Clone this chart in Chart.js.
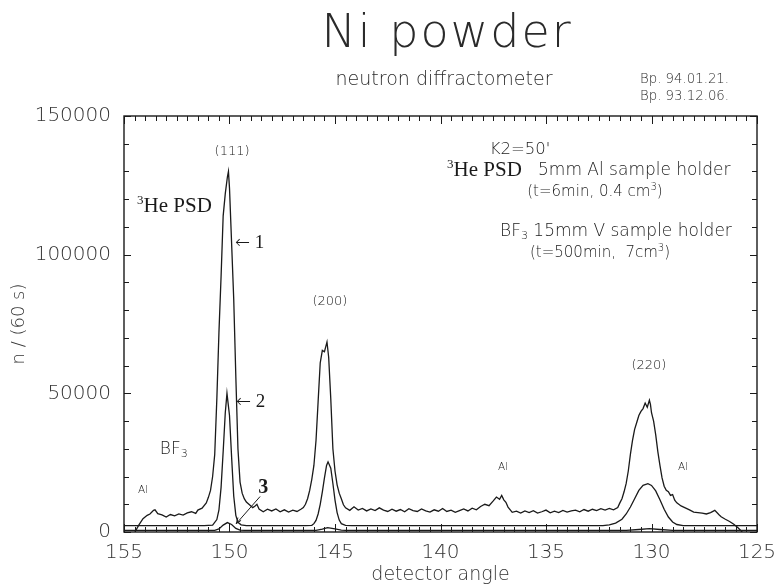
<!DOCTYPE html>
<html>
<head>
<meta charset="utf-8">
<script src="https://cdn.jsdelivr.net/npm/chart.js@4.4.1/dist/chart.umd.min.js"></script>
<style>
  html, body { margin: 0; padding: 0; background: #fff; }
</style>
</head>
<body>
<canvas id="niChart" width="775" height="586"></canvas>
<script>
// axis ticks
const xTicks = [155, 150, 145, 140, 135, 130, 125];
const yTicks = [0, 50000, 100000, 150000];

// curve 1 : 3He PSD, 5mm Al holder
const psdAngle = [154.48, 154.3, 154.1, 153.9, 153.77, 153.6, 153.53, 153.4, 153.2, 153.0, 152.8, 152.6, 152.4, 152.2, 152.0, 151.8, 151.6, 151.5, 151.3, 151.1, 151.0,
  150.9, 150.8, 150.7, 150.6, 150.5, 150.4, 150.3, 150.2, 150.1, 150.05, 150.0, 149.9, 149.8, 149.7, 149.6, 149.5, 149.4, 149.3, 149.2, 149.0, 148.9, 148.8, 148.7, 148.6,
  148.4, 148.2, 148.0, 147.8, 147.6, 147.4, 147.2, 147.0, 146.8, 146.6, 146.5, 146.4, 146.3, 146.2, 146.1, 146.0, 145.9, 145.8, 145.7, 145.6, 145.5, 145.45, 145.38,
  145.3, 145.2, 145.1, 145.0, 144.9, 144.8, 144.7, 144.6, 144.5, 144.3, 144.1, 143.9, 143.7, 143.5, 143.3, 143.1, 142.9, 142.7, 142.5, 142.3, 142.1, 141.9, 141.7,
  141.5, 141.3, 141.1, 140.9, 140.7, 140.5, 140.3, 140.1, 139.9, 139.7, 139.5, 139.3, 139.1, 138.9, 138.7, 138.5, 138.3, 138.1, 137.9, 137.7, 137.5, 137.35, 137.2,
  137.1, 137.0, 136.9, 136.8, 136.6, 136.4, 136.2, 136.0, 135.8, 135.6, 135.4, 135.2, 135.0, 134.8, 134.6, 134.4, 134.2, 134.0, 133.8, 133.6, 133.4, 133.2, 133.0,
  132.8, 132.6, 132.4, 132.2, 132.0, 131.8, 131.6, 131.5, 131.4, 131.3, 131.2, 131.1, 131.0, 130.9, 130.8, 130.7, 130.6, 130.5, 130.4, 130.3, 130.2, 130.1, 130.05,
  130.0, 129.9, 129.8, 129.7, 129.6, 129.5, 129.4, 129.3, 129.2, 129.1, 129.0, 128.9, 128.8, 128.6, 128.4, 128.2, 128.0, 127.8, 127.6, 127.4, 127.2, 127.0, 126.8,
  126.7, 126.5, 126.3, 126.1, 125.9, 125.7, 125.47];
const psdCounts = [0, 2500, 4800, 6000, 6500, 7800, 8000, 6600, 6200, 5400, 6300, 5800, 6500, 6100, 6900, 7300, 6700, 7900, 8600, 10500, 12500,
  15000, 20000, 28000, 48000, 72000, 92000, 114000, 122000, 128000, 130000, 124000, 104000, 84000, 56000, 30000, 18000, 14000, 12000, 10800, 9500, 8800, 9300, 10000, 8300,
  7300, 8200, 7600, 8300, 7300, 8000, 7200, 7900, 7400, 8300, 8800, 10000, 12000, 15000, 19000, 24000, 33000, 47000, 61000, 65500, 65000, 66500, 68500,
  63000, 48000, 30000, 22000, 17000, 14000, 12000, 9800, 8700, 7800, 9100, 7900, 8500, 7600, 8300, 7700, 8700, 7900, 7400, 8200, 7500, 8100, 7300,
  8400, 7700, 7400, 8300, 7600, 7200, 8000, 7500, 8500, 7400, 7900, 7100, 7700, 8300, 7600, 8600, 8000, 9200, 10000, 9500, 11200, 12600, 11800,
  13200, 11600, 10700, 9000, 7100, 7500, 6800, 7600, 7000, 7700, 6800, 7300, 7900, 6900, 7500, 7000, 7800, 7200, 7600, 7900, 7300, 8100, 7500,
  8200, 7700, 8400, 7900, 8500, 8000, 8800, 10500, 12000, 14500, 17500, 22000, 28000, 33000, 37000, 39500, 42000, 43500, 44500, 46500, 45000, 47500,
  46000, 43000, 40000, 35000, 29000, 24000, 19500, 16500, 15000, 14500, 13200, 13500, 11500, 10500, 9400, 8700, 8000, 7200, 7000, 6800, 6500, 7000, 7800,
  6200, 5500, 4600, 3800, 2800, 1500, 0];

// curve 2 : BF3, 15mm V holder
const bfAngle = [155, 151.2, 150.8, 150.6, 150.5, 150.4, 150.3, 150.2, 150.12, 150.0, 149.9, 149.8, 149.7, 149.6, 149.45, 149.2, 146.4,
  146.1, 146.0, 145.9, 145.8, 145.7, 145.6, 145.5, 145.4, 145.33, 145.2, 145.1, 145.0, 144.9, 144.8, 144.7, 144.5, 144.2, 132.5,
  132.3, 132.0, 131.7, 131.4, 131.2, 131.0, 130.8, 130.6, 130.4, 130.17, 130.0, 129.8, 129.6, 129.4, 129.2, 129.0, 128.8, 128.5, 125];
const bfCounts = [2300, 2300, 2500, 4500, 8000, 16000, 29000, 43000, 50000, 42000, 27000, 13000, 6000, 3500, 2600, 2300, 2300,
  2400, 3000, 4200, 6500, 10000, 14500, 19500, 24000, 25300, 23000, 17500, 11500, 7000, 4300, 3000, 2400, 2300, 2300,
  2300, 2600, 3200, 4600, 6500, 9000, 12000, 15000, 16800, 17400, 16800, 14800, 11600, 8200, 5400, 3600, 2700, 2300, 2300];

// curve 3
const smallAngle = [155, 150.7, 150.5, 150.3, 150.1, 149.9, 149.7, 149.5, 149.3, 145.9, 145.6, 145.35, 145.0, 144.7, 144.5,
  131.2, 130.6, 130.1, 129.6, 129.0, 125];
const smallCounts = [600, 600, 1100, 2500, 3400, 2700, 1300, 700, 600, 600, 1000, 1600, 1100, 700, 600,
  600, 900, 1200, 900, 600, 600];

const SANS = '"DejaVu Sans"';
const SERIF = '"Liberation Serif"';
const INK = '#1a1a1a';

// in-plot notes, placed at (angle, counts)
const notes = [
  { x: 149.88, y: 137000, align: 'center', segs: [['(111)', 13]] },
  { x: 145.24, y: 82900, align: 'center', segs: [['(200)', 13]] },
  { x: 130.12, y: 59900, align: 'center', segs: [['(220)', 13]] },
  { x: 154.1, y: 15100, align: 'center', segs: [['Al', 10.5]] },
  { x: 137.04, y: 23400, align: 'center', segs: [['Al', 10.5]] },
  { x: 128.5, y: 23400, align: 'center', segs: [['Al', 10.5]] },
  { x: 154.38, y: 117200, align: 'left', segs: [['3', 13, -6, SERIF], ['He PSD', 21, 0, SERIF]] },
  { x: 153.3, y: 29600, align: 'left', segs: [['BF', 17], ['3', 11, 4]] },
  { x: 149.74, y: 104200, align: 'left', segs: [['\u2190', 18], [' 1', 19, 0, SERIF]] },
  { x: 149.69, y: 46900, align: 'left', segs: [['\u2190', 18], [' 2', 19, 0, SERIF]] },
  { x: 148.4, y: 15900, align: 'center', segs: [['3', 20, 0, 'bold ' + SERIF]] },
  { x: 136.23, y: 137700, align: 'center', segs: [["K2=50'", 16.5]] },
  { x: 139.69, y: 130500, align: 'left', segs: [['3', 13, -6, SERIF], ['He PSD', 21, 0, SERIF], ['   5mm Al sample holder', 17]] },
  { x: 132.68, y: 122600, align: 'center', segs: [['(t=6min, 0.4 cm', 15], ['3', 10, -5], [')', 15]] },
  { x: 137.18, y: 108200, align: 'left', segs: [['BF', 17], ['3', 11, 4], [' 15mm V sample holder', 17]] },
  { x: 132.44, y: 100600, align: 'center', segs: [['(t=500min,  7cm', 15], ['3', 10, -5], [')', 15]] }
];

function segFont(s) {
  const fam = s[3] || SANS;
  if (fam.indexOf('bold') === 0) return 'bold ' + s[1] + 'px ' + fam.replace('bold ', '');
  const w = fam === SERIF ? '' : '200 ';
  return w + s[1] + 'px ' + fam;
}

function drawSegs(ctx, segs, x, y, align) {
  let total = 0;
  segs.forEach(s => {
    ctx.font = segFont(s);
    total += ctx.measureText(s[0]).width;
  });
  let cx = align === 'center' ? x - total / 2 : x;
  segs.forEach(s => {
    ctx.font = segFont(s);
    ctx.fillText(s[0], cx, y + (s[2] || 0));
    cx += ctx.measureText(s[0]).width;
  });
}

const decor = {
  id: 'decor',
  afterDatasetsDraw(chart) {
    const { ctx, chartArea: a, scales: { x, y } } = chart;
    ctx.save();
    ctx.strokeStyle = INK;
    ctx.lineWidth = 1.4;
    ctx.strokeRect(a.left, a.top, a.right - a.left, a.bottom - a.top);

    // inward ticks
    ctx.lineWidth = 1;
    ctx.beginPath();
    for (let v = 125; v <= 155.01; v += 0.5) {
      const px = Math.round(x.getPixelForValue(v)) + 0.5;
      const len = Math.abs(v % 5) < 0.01 ? 8 : 5;
      ctx.moveTo(px, a.top); ctx.lineTo(px, a.top + len);
      ctx.moveTo(px, a.bottom); ctx.lineTo(px, a.bottom - len);
    }
    for (let v = 0; v <= 150000; v += 10000) {
      const py = Math.round(y.getPixelForValue(v)) + 0.5;
      const len = v % 50000 === 0 ? 7 : 5;
      ctx.moveTo(a.left, py); ctx.lineTo(a.left + len, py);
      ctx.moveTo(a.right, py); ctx.lineTo(a.right - len, py);
    }
    ctx.stroke();

    // pointer for curve 3
    ctx.beginPath();
    ctx.moveTo(x.getPixelForValue(148.55), y.getPixelForValue(12800));
    ctx.lineTo(x.getPixelForValue(149.68), y.getPixelForValue(3000));
    ctx.moveTo(x.getPixelForValue(149.68), y.getPixelForValue(3000));
    ctx.lineTo(x.getPixelForValue(149.45), y.getPixelForValue(4200));
    ctx.moveTo(x.getPixelForValue(149.68), y.getPixelForValue(3000));
    ctx.lineTo(x.getPixelForValue(149.6), y.getPixelForValue(5200));
    ctx.stroke();

    ctx.fillStyle = INK;
    ctx.textBaseline = 'middle';
    notes.forEach(n => drawSegs(ctx, n.segs, x.getPixelForValue(n.x), y.getPixelForValue(n.y), n.align));

    // heading
    ctx.fillStyle = '#2a2a2a';
    ctx.textBaseline = 'alphabetic';
    ctx.textAlign = 'left';
    ctx.letterSpacing = '2px';
    drawSegs(ctx, [['Ni powder', 46]], 447, 47, 'center');
    ctx.letterSpacing = '0px';
    ctx.textBaseline = 'middle';
    drawSegs(ctx, [['neutron diffractometer', 19]], 444, 80, 'center');
    drawSegs(ctx, [['Bp. 94.01.21.', 13.3]], 640, 80, 'left');
    drawSegs(ctx, [['Bp. 93.12.06.', 13.3]], 640, 97, 'left');
    ctx.restore();
  }
};

function pts(a, c) {
  return a.map((v, i) => ({ x: v, y: c[i] }));
}

const tickFont = { family: 'DejaVu Sans', size: 20, weight: '200' };

new Chart(document.getElementById('niChart'), {
  type: 'line',
  data: {
    datasets: [
      { label: '1', data: pts(psdAngle, psdCounts) },
      { label: '2', data: pts(bfAngle, bfCounts) },
      { label: '3', data: pts(smallAngle, smallCounts) }
    ]
  },
  options: {
    responsive: false,
    animation: false,
    layout: { padding: { top: 116, right: 18, bottom: 0, left: 0 } },
    elements: {
      line: { borderColor: INK, borderWidth: 1.3, tension: 0, fill: false },
      point: { radius: 0 }
    },
    plugins: { legend: { display: false }, tooltip: { enabled: false } },
    scales: {
      x: {
        type: 'linear',
        reverse: true,
        min: 125,
        max: 155,
        afterBuildTicks: s => { s.ticks = xTicks.map(v => ({ value: v })); },
        afterFit: s => { s.height = 54; s.paddingLeft = 0; s.paddingRight = 0; },
        grid: { display: false, drawTicks: false },
        border: { display: false },
        ticks: { font: tickFont, color: '#333', padding: 9, maxRotation: 0, callback: v => String(v) },
        title: { display: true, text: 'detector angle', color: '#333', padding: { top: 0, bottom: 0 },
          font: { family: 'DejaVu Sans', size: 19, weight: '200' } }
      },
      y: {
        min: 0,
        max: 150000,
        afterBuildTicks: s => { s.ticks = yTicks.map(v => ({ value: v })); },
        afterFit: s => { s.width = 124; },
        grid: { display: false, drawTicks: false },
        border: { display: false },
        ticks: { font: tickFont, color: '#333', padding: 13, callback: v => String(v) },
        title: { display: true, text: 'n / (60 s)', color: '#333', padding: { top: 9, bottom: 0 },
          font: { family: 'DejaVu Sans', size: 18, weight: '200' } }
      }
    }
  },
  plugins: [decor]
});
</script>
</body>
</html>
